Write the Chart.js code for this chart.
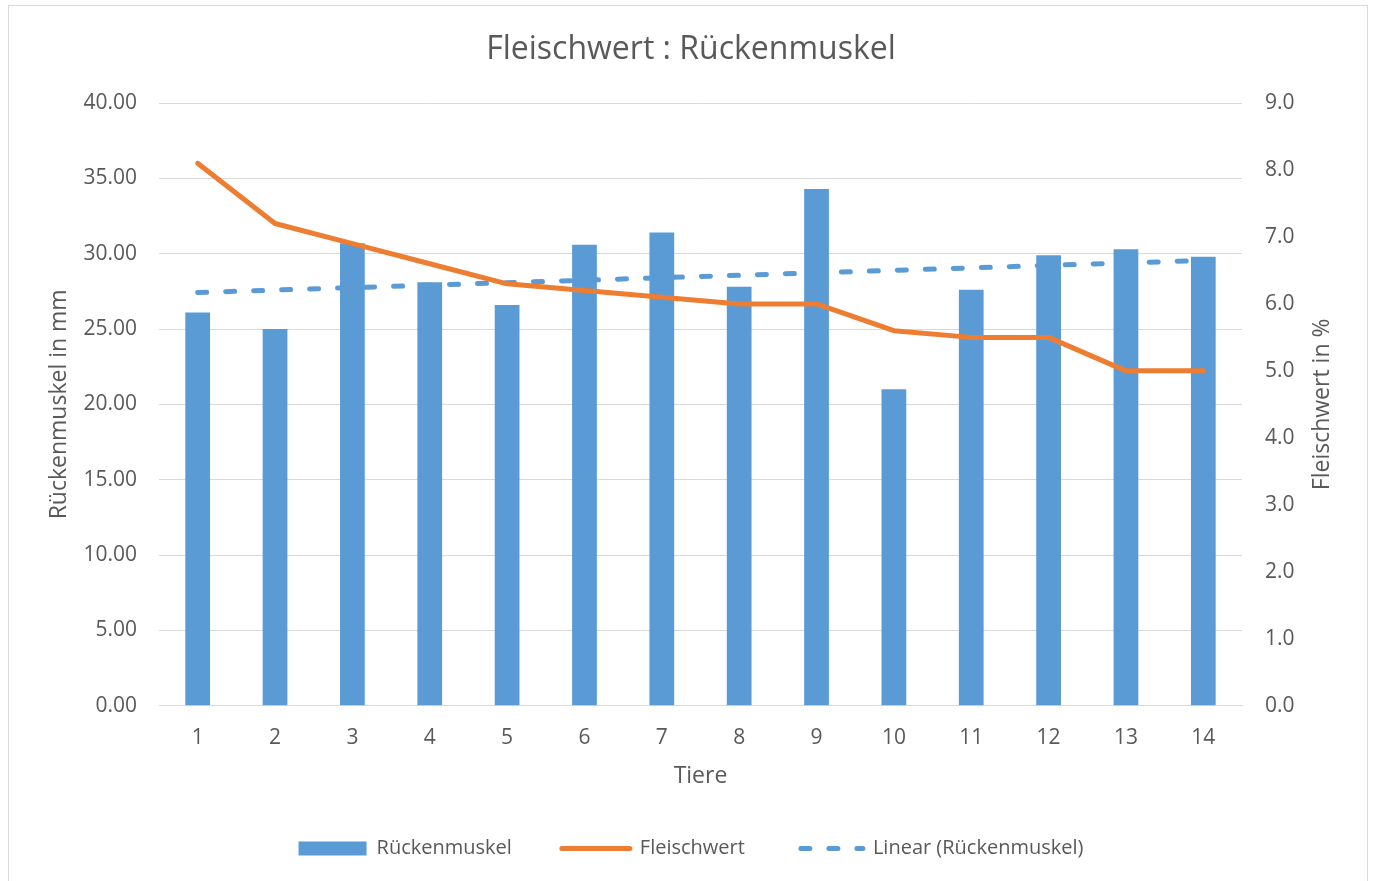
<!DOCTYPE html>
<html>
<head>
<meta charset="utf-8">
<script src="https://cdn.jsdelivr.net/npm/chart.js@4.4.1/dist/chart.umd.min.js"></script>
<style>
  html, body { margin: 0; padding: 0; background: #fff; }
  #frame { position: absolute; left: 8px; top: 5px; width: 1360px; height: 880px; border: 1.5px solid #D9D9D9; box-sizing: border-box; }
  #wrap { position: absolute; left: 0; top: 0; width: 1375px; height: 881px; }
</style>
</head>
<body>
<div id="frame"></div>
<div id="wrap"><canvas id="c" width="1375" height="881"></canvas></div>
<script>
const categories = ['1','2','3','4','5','6','7','8','9','10','11','12','13','14'];
const rueckenmuskel = [26.1, 25.0, 30.7, 28.1, 26.6, 30.6, 31.4, 27.8, 34.3, 21.0, 27.6, 29.9, 30.3, 29.8];
const fleischwert = [8.1, 7.2, 6.9, 6.6, 6.3, 6.2, 6.1, 6.0, 6.0, 5.6, 5.5, 5.5, 5.0, 5.0];
const trendline = [27.42, null, null, null, null, null, null, null, null, null, null, null, null, 29.55];
const seriesNames = ['Rückenmuskel', 'Fleischwert', 'Linear (Rückenmuskel)'];
const rightAxisTitle = 'Fleischwert in %';

const BLUE = '#5B9BD5';
const ORANGE = '#ED7D31';
const GRID = '#D9D9D9';
const TEXT = '#595959';
const FONT = '"Open Sans", sans-serif';

// Draws the right axis title reading bottom-to-top (like the left one)
const rightTitlePlugin = {
  id: 'rightTitle',
  afterDraw(chart) {
    const s = chart.scales.y2;
    const c = chart.ctx;
    c.save();
    c.font = '23px ' + FONT;
    c.fillStyle = TEXT;
    c.textAlign = 'center';
    c.textBaseline = 'middle';
    c.translate(s.right - 4 - 13.8, (chart.chartArea.top + chart.chartArea.bottom) / 2);
    c.rotate(-Math.PI / 2);
    c.fillText(rightAxisTitle, 0, 0);
    c.restore();
  }
};

const ctx = document.getElementById('c').getContext('2d');
new Chart(ctx, {
  data: {
    labels: categories,
    datasets: [
      { type: 'line', label: seriesNames[1], data: fleischwert, yAxisID: 'y2', borderColor: ORANGE, backgroundColor: ORANGE,
        borderWidth: 5, pointRadius: 0, tension: 0, borderCapStyle: 'round', borderJoinStyle: 'round', order: 1 },
      { type: 'line', label: seriesNames[2], data: trendline, yAxisID: 'y', borderColor: BLUE, backgroundColor: BLUE,
        borderWidth: 5, borderDash: [9, 19], borderCapStyle: 'round', pointRadius: 0, spanGaps: true, order: 2 },
      { type: 'bar', label: seriesNames[0], data: rueckenmuskel, yAxisID: 'y', backgroundColor: BLUE,
        barPercentage: 0.32, categoryPercentage: 1, order: 3 }
    ]
  },
  plugins: [rightTitlePlugin],
  options: {
    responsive: false,
    animation: false,
    layout: { padding: { left: 42, right: 35, top: 20, bottom: 12.5 } },
    plugins: {
      tooltip: { enabled: false },
      title: { display: true, text: 'Fleischwert : Rückenmuskel', color: TEXT,
        font: { family: FONT, size: 32, weight: 'normal' }, padding: { top: 10.3, bottom: 34.3 } },
      legend: {
        position: 'bottom',
        labels: {
          color: TEXT, font: { family: FONT, size: 20 }, usePointStyle: true, pointStyleWidth: 68,
          boxHeight: 14, padding: 50,
          generateLabels: () => [
            { text: seriesNames[0], fillStyle: BLUE, strokeStyle: BLUE, lineWidth: 0, pointStyle: 'rect', datasetIndex: 2, fontColor: TEXT },
            { text: seriesNames[1], fillStyle: ORANGE, strokeStyle: ORANGE, lineWidth: 5, lineCap: 'round', pointStyle: 'line', datasetIndex: 0, fontColor: TEXT },
            { text: seriesNames[2], fillStyle: BLUE, strokeStyle: BLUE, lineWidth: 5, lineCap: 'round', lineDash: [9, 19], lineDashOffset: -6, pointStyle: 'line', datasetIndex: 1, fontColor: TEXT }
          ]
        }
      }
    },
    scales: {
      x: {
        grid: { display: false, drawTicks: false },
        border: { display: true, color: GRID, width: 1 },
        ticks: { color: TEXT, font: { family: FONT, size: 21 }, padding: 19.4, maxRotation: 0 },
        title: { display: true, text: 'Tiere', color: TEXT, font: { family: FONT, size: 23 }, padding: { top: -6.8, bottom: -2 } }
      },
      y: {
        position: 'left', min: 0, max: 40,
        grid: { color: GRID, lineWidth: 1, drawTicks: false },
        border: { display: false },
        ticks: { stepSize: 5, color: TEXT, font: { family: FONT, size: 21 }, padding: 22, callback: v => v.toFixed(2) },
        title: { display: true, text: 'Rückenmuskel in mm', color: TEXT, font: { family: FONT, size: 23 }, padding: { top: 4, bottom: 4 } },
        afterFit: s => { s.width = 117; }
      },
      y2: {
        position: 'right', min: 0, max: 9,
        grid: { display: false, drawTicks: false },
        border: { display: false },
        ticks: { stepSize: 1, color: TEXT, font: { family: FONT, size: 21 }, padding: 23, callback: v => v.toFixed(1) },
        title: { display: false },
        afterFit: s => { s.width = 98; }
      }
    }
  }
});
</script>
</body>
</html>
